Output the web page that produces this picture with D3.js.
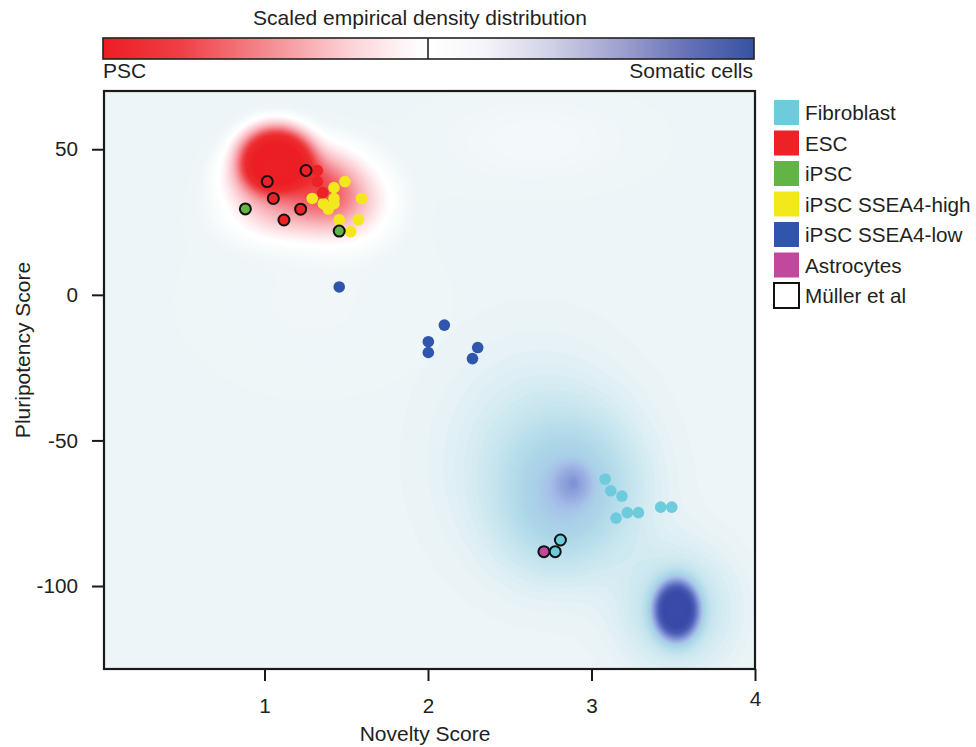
<!DOCTYPE html>
<html><head><meta charset="utf-8">
<script src="https://cdn.jsdelivr.net/npm/d3@7"></script>
<style>
body{margin:0;background:#fff}
svg{display:block}
text{font-family:"Liberation Sans",Arial,Helvetica,sans-serif;fill:#231f20}
</style>
</head><body>
<svg id="chart" width="976" height="747"></svg>
<script>
// ---------- data ----------
const xTicks = [1, 2, 3, 4];
const yTicks = [50, 0, -50, -100];
const legendLabels = ["Fibroblast", "ESC", "iPSC", "iPSC SSEA4-high", "iPSC SSEA4-low", "Astrocytes", "Müller et al"];
const legendColors = ["#6dcbdc", "#ec2227", "#63b446", "#f3e81c", "#2f55ad", "#c1489c", "#ffffff"];

// points: [novelty, pluripotency, mullerFlag]
const ssea4High = [[1.492,38.9,0],[1.425,36.8,0],[1.292,33.1,0],[1.425,33.1,0],[1.594,33.1,0],[1.360,31.3,0],[1.425,31.3,0],[1.390,29.4,0],[1.457,25.8,0],[1.574,25.8,0],[1.527,21.7,0]];
const esc = [[1.323,42.7,0],[1.323,38.9,0],[1.356,35.1,0],[1.254,42.7,1],[1.017,38.9,1],[1.054,33.1,1],[1.221,29.4,1],[1.119,25.7,1]];
const ipsc = [[0.883,29.5,1],[1.457,21.9,1]];
const ssea4Low = [[1.457,2.7,0],[2.100,-10.4,0],[2.002,-16.1,0],[2.002,-19.8,0],[2.304,-18.1,0],[2.272,-21.9,0]];
const fibroblast = [[3.083,-63.3,0],[3.118,-67.3,0],[3.186,-69.1,0],[3.150,-76.7,0],[3.219,-74.8,0],[3.287,-74.8,0],[3.423,-72.9,0],[3.491,-72.9,0]];
const astrocytes = [[2.709,-88.2,1]];
const fibroblastMuller = [[2.778,-88.2,1],[2.810,-84.2,1]];

// density components: [x, y, sx, sy, weight, exponent]
const pscDensity = [
  [1.07, 47.5, 0.17, 8, 1.0, 3],
  [1.00, 40, 0.14, 6, 0.45, 2],
  [1.30, 40, 0.16, 7, 0.38, 2],
  [1.46, 32, 0.17, 8, 0.32, 2],
  [1.12, 28, 0.20, 6, 0.20, 2],
  [2.65, 53, 0.45, 11, 0.018, 2],
  [1.30, -2, 0.55, 22, 0.010, 2]
];
const somaticDensity = [
  [2.89, -64.5, 0.09, 5.5, 0.12, 3],
  [2.89, -64.5, 0.02, 1.5, 0.06, 2],
  [2.88, -66, 0.27, 16, 0.30, 2],
  [2.66, -56, 0.38, 25, 0.11, 2],
  [2.75, -82, 0.22, 12, 0.07, 2],
  [3.52, -108.3, 0.11, 8.2, 1.0, 3],
  [3.52, -108, 0.23, 14, 0.20, 2]
];

// ---------- layout ----------
const svg = d3.select("#chart");
const x = d3.scaleLinear().domain([0, 4]).range([101, 755]);
const y = d3.scaleLinear().domain([-128.5, 70]).range([669, 91]);
const pL = 104, pR = x(4), pT = y(70), pB = y(-128.5);

// ---------- colour bar ----------
const defs = svg.append("defs");
const grad = defs.append("linearGradient").attr("id", "cbar");
[[0,"#ed1c24"],[0.12,"#ef3f46"],[0.25,"#f38a8f"],[0.38,"#fbd3d7"],[0.46,"#fff4f5"],[0.5,"#ffffff"],[0.58,"#f6f6fa"],[0.68,"#d4d4e8"],[0.8,"#9c9ecd"],[0.9,"#6470b6"],[1,"#3752a3"]]
  .forEach(s => grad.append("stop").attr("offset", s[0]).attr("stop-color", s[1]));
svg.append("rect").attr("x", 103).attr("y", 38).attr("width", 651).attr("height", 21)
  .attr("fill", "url(#cbar)").attr("stroke", "#222").attr("stroke-width", 1.6);
svg.append("line").attr("x1", 428).attr("x2", 428).attr("y1", 38).attr("y2", 59).attr("stroke", "#222").attr("stroke-width", 1.6);
svg.append("text").attr("x", 420).attr("y", 25).attr("text-anchor", "middle").attr("font-size", 21).text("Scaled empirical density distribution");
svg.append("text").attr("x", 103).attr("y", 78).attr("font-size", 21).text("PSC");
svg.append("text").attr("x", 753).attr("y", 78).attr("text-anchor", "end").attr("font-size", 21).text("Somatic cells");

// ---------- density surface ----------
defs.append("clipPath").attr("id", "plotclip").append("rect")
  .attr("x", pL).attr("y", pT).attr("width", pR - pL).attr("height", pB - pT);
const plot = svg.append("g").attr("clip-path", "url(#plotclip)");
plot.append("rect").attr("x", pL).attr("y", pT).attr("width", pR - pL).attr("height", pB - pT).attr("fill", "#edf5f8");

const nx = 270, ny = 250;
const [dx0, dx1] = x.domain(), [dy0, dy1] = y.domain();
const dx = (dx1 - dx0) / nx, dy = (dy1 - dy0) / ny;
function field(comps) {
  const v = new Float64Array(nx * ny);
  for (let j = 0; j < ny; j++) {
    const gy = dy1 - (j + 0.5) * dy;
    for (let i = 0; i < nx; i++) {
      const gx = dx0 + (i + 0.5) * dx;
      let s = 0;
      for (const c of comps) {
        const r2 = ((gx - c[0]) / c[2]) ** 2 + ((gy - c[1]) / c[3]) ** 2;
        s += c[4] * Math.exp(-0.5 * Math.pow(r2, c[5] / 2));
      }
      v[j * nx + i] = s;
    }
  }
  return v;
}
const proj = d3.geoTransform({ point: function (px, py) { this.stream.point(x(dx0 + px * dx), y(dy1 - py * dy)); } });
const path = d3.geoPath(proj);

const blueScale = d3.scaleLinear()
  .domain([0, 0.04, 0.1, 0.18, 0.27, 0.34, 0.38, 0.42, 0.5, 0.65, 0.8, 1])
  .range(["#edf5f8", "#e1f0f5", "#cfe9f1", "#bde0ec", "#acd7e8", "#a9cfe8", "#a7c4e8", "#a2b8e6", "#8fa4dc", "#6a7ccb", "#4b5cb4", "#3a4aa8"])
  .clamp(true);
const redScale = d3.scaleLinear()
  .domain([0, 0.025, 0.06, 0.14, 0.28, 0.42, 0.56, 0.7, 1])
  .range(["#edf5f8", "#f7fbfc", "#ffffff", "#fde2e6", "#f9b3ba", "#f47f87", "#ef4d53", "#ed2d30", "#ec1f25"])
  .clamp(true);

const somV = field(somaticDensity);
const blueTh = d3.range(0.01, 1.25, 0.015);
plot.append("g").selectAll("path").data(d3.contours().size([nx, ny]).thresholds(blueTh)(somV))
  .join("path").attr("d", path).attr("fill", d => blueScale(d.value));

const pscV = field(pscDensity);
const redTh = d3.range(0.003, 0.06, 0.003).concat(d3.range(0.06, 1.3, 0.02));
plot.append("g").selectAll("path").data(d3.contours().size([nx, ny]).thresholds(redTh)(pscV))
  .join("path").attr("d", path).attr("fill", d => redScale(d.value));

// ---------- points ----------
const layers = [
  [ssea4High, "#f3e81c"], [esc, "#ec2227"], [ipsc, "#63b446"], [ssea4Low, "#2f55ad"],
  [fibroblast, "#6dcbdc"], [astrocytes, "#c1489c"], [fibroblastMuller, "#6dcbdc"]
];
const pts = plot.append("g");
layers.forEach(([arr, col]) => {
  pts.selectAll(null).data(arr).join("circle")
    .attr("cx", d => x(d[0])).attr("cy", d => y(d[1]))
    .attr("r", d => d[2] ? 5.5 : 5.8)
    .attr("fill", col)
    .attr("stroke", d => d[2] ? "#111" : "none")
    .attr("stroke-width", 2);
});

// ---------- frame & axes ----------
svg.append("rect").attr("x", pL).attr("y", pT).attr("width", pR - pL).attr("height", pB - pT)
  .attr("fill", "none").attr("stroke", "#1a1a1a").attr("stroke-width", 2.2);

const fmt = d => String(d);
const xAxis = svg.append("g").attr("transform", `translate(0,${pB})`)
  .call(d3.axisBottom(x).tickValues(xTicks).tickSize(12).tickPadding(17).tickFormat(fmt));
const yAxis = svg.append("g").attr("transform", `translate(${pL},0)`)
  .call(d3.axisLeft(y).tickValues(yTicks).tickSize(12).tickPadding(14).tickFormat(fmt));
[xAxis, yAxis].forEach(g => {
  g.select(".domain").remove();
  g.selectAll(".tick line").attr("stroke", "#1a1a1a").attr("stroke-width", 2);
  g.selectAll(".tick text").attr("font-size", 20.7).attr("fill", "#231f20").attr("font-family", '"Liberation Sans",Arial,sans-serif');
});
xAxis.selectAll(".tick").filter(d => d === 4).select("text").attr("y", 22);

svg.append("text").attr("x", 425).attr("y", 741).attr("text-anchor", "middle").attr("font-size", 21).text("Novelty Score");
svg.append("text").attr("transform", "translate(30,350) rotate(-90)").attr("text-anchor", "middle").attr("font-size", 21).text("Pluripotency Score");

// ---------- legend ----------
const lg = svg.append("g").selectAll("g").data(legendLabels).join("g")
  .attr("transform", (d, i) => `translate(774,${100 + i * 30.5})`);
lg.append("rect").attr("width", 25).attr("height", 25)
  .attr("fill", (d, i) => legendColors[i])
  .attr("stroke", (d, i) => i === legendLabels.length - 1 ? "#111" : "none")
  .attr("stroke-width", 2);
lg.append("text").attr("x", 31).attr("y", 20).attr("font-size", 20.7).text(d => d);
</script>
</body></html>
